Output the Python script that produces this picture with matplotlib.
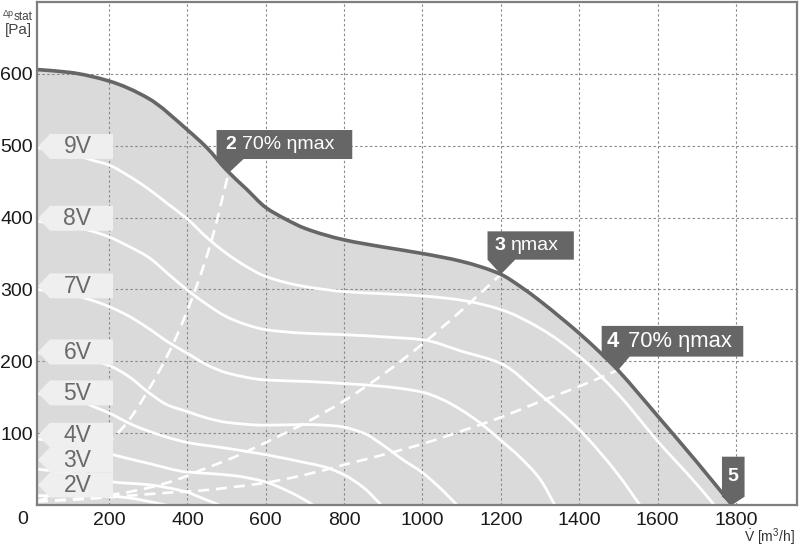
import matplotlib
matplotlib.use("Agg")
import matplotlib.pyplot as plt
from matplotlib.patches import Polygon, PathPatch
from matplotlib.path import Path
from matplotlib.transforms import IdentityTransform
import numpy as np

plt.rcParams['font.family'] = ['Liberation Sans', 'DejaVu Sans']
plt.rcParams['mathtext.fontset'] = 'custom'
plt.rcParams['mathtext.rm'] = 'Liberation Sans'
plt.rcParams['mathtext.it'] = 'Liberation Sans:italic'

# ---------------- data ----------------
main_x = [16, 100, 200, 300, 400, 450, 500, 550, 600, 650, 700, 800, 900, 1000,
          1100, 1200, 1250, 1300, 1350, 1400, 1450, 1500, 1550, 1600, 1700, 1790]
main_y = [606, 602, 590, 566, 522, 497, 466, 440, 414, 398, 385, 369, 359, 350,
          339, 321, 304, 284, 262, 239, 214, 187, 156, 124, 60, 0]

v9_x = [16, 100, 150, 200, 250, 300, 350, 400, 450, 500, 550, 600, 700, 800, 900,
        1000, 1100, 1200, 1300, 1400, 1500, 1600, 1700, 1745]
v9_y = [497, 490, 481, 473, 458, 440, 419, 398, 372, 350, 332, 318, 304, 297, 294,
        291, 285, 272, 246, 207, 154, 89, 29, 0]

v8_x = [16, 100, 150, 200, 250, 300, 350, 400, 450, 500, 550, 600, 700, 800, 900,
        1000, 1100, 1200, 1300, 1400, 1500, 1555]
v8_y = [395, 388, 382, 373, 360, 345, 322, 299, 279, 262, 251, 244, 239, 237, 234,
        230, 214, 197, 154, 105, 42, 0]

v7_x = [16, 100, 150, 200, 250, 300, 350, 400, 450, 500, 600, 700, 800, 900, 1000,
        1050, 1100, 1150, 1200, 1250, 1300, 1338]
v7_y = [300, 293, 286, 276, 263, 246, 227, 211, 195, 184, 174, 172, 169, 165, 157,
        147, 132, 113, 90, 66, 36, 0]

v6_x = [16, 100, 150, 200, 250, 300, 350, 400, 450, 500, 600, 700, 780, 850, 900,
        950, 1000, 1050, 1088]
v6_y = [212, 207, 202, 194, 179, 157, 139, 130, 121, 115, 111, 112, 110, 100, 83,
        63, 45, 21, 0]

v5_x = [16, 100, 160, 200, 262, 300, 350, 400, 500, 600, 700, 750, 800, 850, 895]
v5_y = [155, 150, 137, 128, 111, 103, 94, 87, 79, 70, 59, 53, 42, 24, 0]

v4_x = [16, 100, 150, 210, 300, 398, 450, 517, 600, 650, 690, 721]
v4_y = [92, 86, 79, 70, 58, 46, 44, 41, 32, 21, 10, 0]

v3_x = [16, 100, 150, 210, 304, 350, 398, 440, 482]
v3_y = [50, 44, 38, 32, 28, 24, 18, 9, 0]

v2_x = [16, 100, 210, 262, 300, 347]
v2_y = [13, 13, 12, 9, 5, 0]

d2_x = [16, 50, 100, 150, 210, 245, 296, 364, 423, 462, 505]
d2_y = [5, 12, 28, 55, 93, 114, 156, 225, 304, 369, 462]

d3_x = [16, 100, 228, 300, 372, 432, 517, 600, 700, 800, 900, 1000, 1100, 1200]
d3_y = [5, 8, 16, 24, 35, 48, 66, 87, 114, 145, 182, 224, 271, 321]

d4_x = [16, 100, 228, 347, 432, 517, 600, 700, 800, 900, 1000, 1100, 1200, 1300,
        1400, 1500]
d4_y = [5, 7, 12, 17, 20, 25, 31, 42, 56, 70, 85, 103, 122, 144, 165, 188]

volt_labels = ['9V', '8V', '7V', '6V', '5V', '4V', '3V', '2V']
volt_label_y = [499, 399, 305, 213, 156, 97, 63, 28]

op_x = [505, 1200, 1500, 1790]
op_y = [462, 321, 188, 0]
op_num = ['2', '3', '4', '5']
op_txt = ['70% ηmax', 'ηmax', '70% ηmax', '']

x_ticks = [200, 400, 600, 800, 1000, 1200, 1400, 1600, 1800]
y_ticks = [100, 200, 300, 400, 500, 600]


# ---------------- smooth path through the read points ----------------
def smooth_path(xs, ys):
    """Bezier path through the points with monotone (PCHIP-style) tangents."""
    x = np.asarray(xs, float)
    y = np.asarray(ys, float)
    h = np.diff(x)
    d = np.diff(y) / h
    n = len(x)
    m = np.zeros(n)
    for k in range(1, n - 1):
        if d[k - 1] * d[k] <= 0:
            m[k] = 0.0
        else:
            w1 = 2 * h[k] + h[k - 1]
            w2 = h[k] + 2 * h[k - 1]
            m[k] = (w1 + w2) / (w1 / d[k - 1] + w2 / d[k])
    m[0] = d[0]
    m[-1] = d[-1]
    verts = [(x[0], y[0])]
    codes = [Path.MOVETO]
    for i in range(n - 1):
        verts += [(x[i] + h[i] / 3, y[i] + m[i] * h[i] / 3),
                  (x[i + 1] - h[i] / 3, y[i + 1] - m[i + 1] * h[i] / 3),
                  (x[i + 1], y[i + 1])]
        codes += [Path.CURVE4] * 3
    return verts, codes


# ---------------- figure ----------------
W, H = 800, 549
fig = plt.figure(figsize=(W / 100, H / 100), dpi=100)
ax = fig.add_axes([37 / W, 44 / H, 760 / W, 503 / H])
ax.set_xlim(16, 1956)
ax.set_ylim(0, 700)

# grey area under the fan curve
mv, mc = smooth_path(main_x, main_y)
fill_verts = mv + [(main_x[-1], 0), (main_x[0], 0), (main_x[0], main_y[0])]
fill_codes = mc + [Path.LINETO, Path.LINETO, Path.CLOSEPOLY]
ax.add_patch(PathPatch(Path(fill_verts, fill_codes), facecolor='#dadada',
                       edgecolor='none', zorder=1))

ax.set_xticks(x_ticks)
ax.set_yticks(y_ticks)
ax.tick_params(length=0, labelsize=14, colors='#1a1a1a')
ax.tick_params(axis='x', pad=5)
ax.tick_params(axis='y', pad=3)
ax.grid(True, color='#8a8a8a', lw=0.8, linestyle=(0, (2.2, 2.2)))
ax.set_axisbelow('line')
for sp in ax.spines.values():
    sp.set_color('#7f7f7f')
    sp.set_linewidth(1.6)
    sp.set_zorder(6)

for xs, ys in [(v9_x, v9_y), (v8_x, v8_y), (v7_x, v7_y), (v6_x, v6_y),
               (v5_x, v5_y), (v4_x, v4_y), (v3_x, v3_y), (v2_x, v2_y)]:
    v, c = smooth_path(xs, ys)
    ax.add_patch(PathPatch(Path(v, c), fill=False, edgecolor='white', lw=2.0,
                           capstyle='round', joinstyle='round', zorder=2))
for xs, ys in [(d2_x, d2_y), (d3_x, d3_y), (d4_x, d4_y)]:
    v, c = smooth_path(xs, ys)
    ax.add_patch(PathPatch(Path(v, c), fill=False, edgecolor='white', lw=1.9,
                           linestyle=(0, (4.2, 2.6)), capstyle='butt', zorder=2))

ax.add_patch(PathPatch(Path(mv, mc), fill=False, edgecolor='#666666', lw=2.6,
                       capstyle='butt', joinstyle='round', zorder=3))

fig.canvas.draw()
ident = IdentityTransform()


def to_px(x, y):
    return ax.transData.transform((x, y))


# voltage tags
x_left_px = ax.transAxes.transform((0, 0))[0]
for lab, yv in zip(volt_labels, volt_label_y):
    _, cy = to_px(16, yv)
    tip = x_left_px + 1
    sh = x_left_px + 13
    right = x_left_px + 76
    hh = 12.5
    poly = Polygon([[tip, cy], [sh, cy + hh], [right, cy + hh], [right, cy - hh],
                    [sh, cy - hh]], closed=True, transform=ident,
                   facecolor='#efefef', edgecolor='none', zorder=4, clip_on=False)
    ax.add_artist(poly)
    ax.text(x_left_px + 40.5, cy - 0.5, lab, transform=ident, ha='center',
            va='center', fontsize=16.5, color='#6a6a6a', zorder=5)

# operating point flags (geometry in px relative to the tip, y up)
flag_geom = {
    '2': dict(left=-12, width=135.7, bottom=14, height=29, pr=27,
              num_dx=-3, txt_dx=13.7, fs=14),
    '3': dict(left=-13.3, width=86.3, bottom=14.7, height=28.3, pr=27.7,
              num_dx=-6.7, txt_dx=10, fs=14),
    '4': dict(left=-16.7, width=141.6, bottom=13.3, height=30.7, pr=28,
              num_dx=-11.7, txt_dx=10, fs=15.8),
    '5': dict(left=-10, width=22.6, bottom=8.3, height=40, pr=22.6,
              num_dx=None, txt_dx=0, fs=14),
}
for xv, yv, num, txt in zip(op_x, op_y, op_num, op_txt):
    g = flag_geom[num]
    tx, ty = to_px(xv, yv)
    L = tx + g['left']
    R = L + g['width']
    B = ty + g['bottom']
    T = B + g['height']
    verts = [[L, B], [L, T], [R, T], [R, B], [L + g['pr'], B], [tx, ty]]
    ax.add_artist(Polygon(verts, closed=True, transform=ident, facecolor='#666666',
                          edgecolor='none', zorder=7, clip_on=False))
    cyt = (B + T) / 2
    if g['num_dx'] is None:
        ax.text((L + R) / 2, cyt, num, transform=ident, ha='center', va='center',
                fontsize=g['fs'], fontweight='bold', color='white', zorder=8)
    else:
        ax.text(tx + g['num_dx'], cyt, num, transform=ident, ha='left', va='center',
                fontsize=g['fs'], fontweight='bold', color='white', zorder=8)
        ax.text(tx + g['txt_dx'], cyt, txt, transform=ident, ha='left', va='center',
                fontsize=g['fs'], color='white', zorder=8)

# axis captions
fig.text(22.5 / W, 1 - 519 / H, '0', ha='center', va='center', fontsize=14,
         color='#1a1a1a')
fig.text(3 / W, 1 - 13 / H, 'Δp', ha='left', va='center', fontsize=6.5, color='#444444')
fig.text(14 / W, 1 - 17 / H, 'stat', ha='left', va='center', fontsize=8.5, color='#444444')
fig.text(5 / W, 1 - 30 / H, '[Pa]', ha='left', va='center', fontsize=11, color='#444444')
fig.text(795 / W, 1 - 537 / H, r'$\dot{\mathrm{V}}$ [m$^3$/h]', ha='right', va='center',
         fontsize=10, color='#333333')

fig.savefig('out.png', dpi=100)
